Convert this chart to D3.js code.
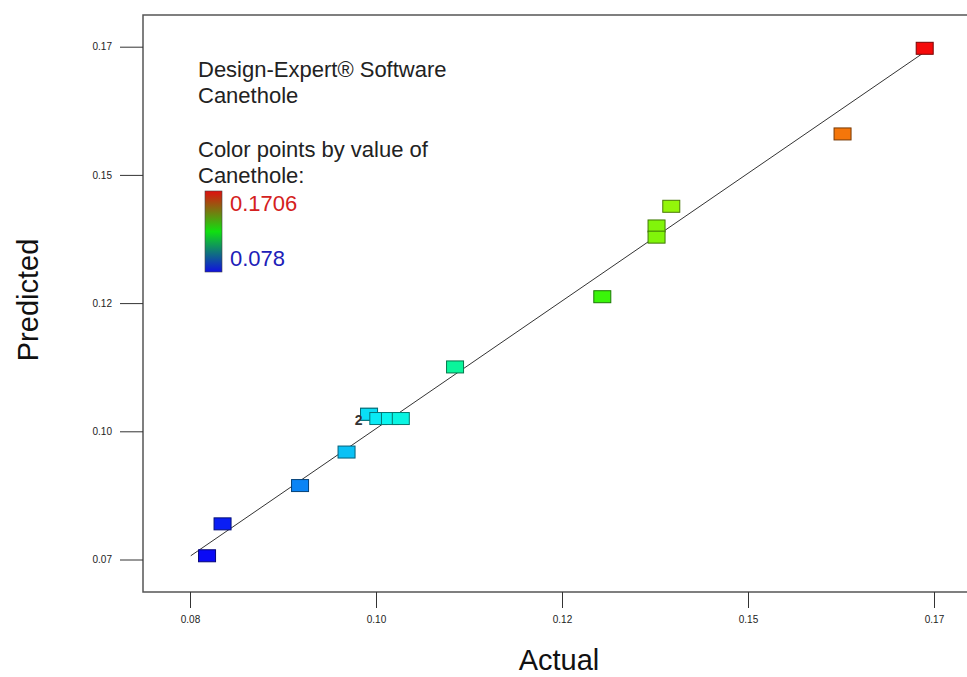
<!DOCTYPE html>
<html>
<head>
<meta charset="utf-8">
<script src="https://cdn.jsdelivr.net/npm/d3@7"></script>
<style>
  body { margin: 0; background: #fff; }
  svg { font-family: "Liberation Sans", Arial, sans-serif; }
  .axis text { font-size: 10px; fill: #222; }
  .axis line { stroke: #333; }
</style>
</head>
<body>
<script>
// actual vs predicted Canethole
var actual    = [0.0780, 0.0800, 0.0900, 0.0960, 0.0989, 0.0989, 0.1001, 0.1016, 0.1030, 0.1100, 0.1290, 0.1360, 0.1360, 0.1379, 0.1600, 0.1706];
var predicted = [0.0759, 0.0819, 0.0891, 0.0954, 0.1025, 0.1025, 0.1017, 0.1017, 0.1017, 0.1114, 0.1246, 0.1379, 0.1358, 0.1416, 0.1552, 0.1713];

var xTicks = [0.0758, 0.0998, 0.1238, 0.1478, 0.1718];
var xTickLabels = ['0.08', '0.10', '0.12', '0.15', '0.17'];
var yTicks = [0.0752, 0.0993, 0.1234, 0.1475, 0.1716];
var yTickLabels = ['0.07', '0.10', '0.12', '0.15', '0.17'];

var colorRange = [0.078, 0.1706];   // legend low / high
var repeatLabel = {index: 4, text: '2'};

var W = 967, H = 677;

var svg = d3.select('body').append('svg')
    .attr('width', W)
    .attr('height', H);

var xScale = d3.scaleLinear()
    .domain([xTicks[0], xTicks[xTicks.length - 1]])
    .range([190, 934]);

var yScale = d3.scaleLinear()
    .domain([yTicks[0], yTicks[yTicks.length - 1]])
    .range([559.5, 46.7]);

var hue = d3.scaleLinear().domain(colorRange).range([240, 0]).clamp(true);
function fillOf(v) { return d3.hsl(hue(v), 0.92, 0.5) + ''; }

// plot frame
svg.append('rect')
    .attr('x', 143).attr('y', 15)
    .attr('width', 900).attr('height', 577)
    .attr('fill', 'none')
    .attr('stroke', '#555')
    .attr('stroke-width', 1.5);

// axes
var xAxis = d3.axisBottom(xScale)
    .tickValues(xTicks)
    .tickFormat(function (d, i) { return xTickLabels[i]; })
    .tickSize(16)
    .tickPadding(8);

var yAxis = d3.axisLeft(yScale)
    .tickValues(yTicks)
    .tickFormat(function (d, i) { return yTickLabels[i]; })
    .tickSize(23)
    .tickPadding(8);

svg.append('g')
    .attr('class', 'axis')
    .attr('transform', 'translate(0,592)')
    .call(xAxis)
    .call(function (g) { g.select('.domain').remove(); });

svg.append('g')
    .attr('class', 'axis')
    .attr('transform', 'translate(143,0)')
    .call(yAxis)
    .call(function (g) { g.select('.domain').remove(); });

// axis titles
svg.append('text')
    .attr('x', 559).attr('y', 670)
    .attr('text-anchor', 'middle')
    .attr('font-size', 29)
    .attr('fill', '#111')
    .text('Actual');

svg.append('text')
    .attr('transform', 'translate(38,300) rotate(-90)')
    .attr('text-anchor', 'middle')
    .attr('font-size', 29)
    .attr('fill', '#111')
    .text('Predicted');

// y = x reference line
var lo = d3.min(predicted), hi = d3.max(actual);
svg.append('line')
    .attr('x1', xScale(lo)).attr('y1', yScale(lo))
    .attr('x2', xScale(hi)).attr('y2', yScale(hi))
    .attr('stroke', '#333')
    .attr('stroke-width', 1);

// points
var bw = 17, bh = 12;
svg.selectAll('rect.pt')
  .data(actual)
  .enter()
  .append('rect')
  .attr('class', 'pt')
  .attr('x', function (d) { return xScale(d) - bw / 2; })
  .attr('y', function (d, i) { return yScale(predicted[i]) - bh / 2; })
  .attr('width', bw)
  .attr('height', bh)
  .attr('fill', function (d) { return fillOf(d); })
  .attr('stroke', function (d) { return d3.color(fillOf(d)).darker(2) + ''; })
  .attr('stroke-width', 1);

svg.append('text')
    .attr('x', xScale(actual[repeatLabel.index]) - bw / 2 + 2)
    .attr('y', yScale(predicted[repeatLabel.index]) + 11)
    .attr('text-anchor', 'end')
    .attr('font-size', 14)
    .attr('font-weight', 'bold')
    .attr('fill', '#333')
    .text(repeatLabel.text);

// legend
var legend = svg.append('g').attr('fill', '#222').attr('font-size', 22);
var lines = [['Design-Expert® Software', 77], ['Canethole', 103], ['Color points by value of', 157], ['Canethole:', 183]];
lines.forEach(function (l) {
  legend.append('text').attr('x', 198).attr('y', l[1]).text(l[0]);
});

var grad = svg.append('defs').append('linearGradient')
    .attr('id', 'cbar')
    .attr('x1', 0).attr('y1', 0).attr('x2', 0).attr('y2', 1);
grad.append('stop').attr('offset', '0%').attr('stop-color', '#e01010');
grad.append('stop').attr('offset', '50%').attr('stop-color', '#10e010');
grad.append('stop').attr('offset', '100%').attr('stop-color', '#1010e0');

svg.append('rect')
    .attr('x', 205).attr('y', 191)
    .attr('width', 17).attr('height', 81)
    .attr('fill', 'url(#cbar)')
    .attr('stroke', '#444')
    .attr('stroke-width', 0.6);

svg.append('text')
    .attr('x', 230).attr('y', 211)
    .attr('font-size', 22)
    .attr('fill', '#d42020')
    .text(colorRange[1]);

svg.append('text')
    .attr('x', 230).attr('y', 266)
    .attr('font-size', 22)
    .attr('fill', '#2020b8')
    .text(colorRange[0]);
</script>
</body>
</html>
